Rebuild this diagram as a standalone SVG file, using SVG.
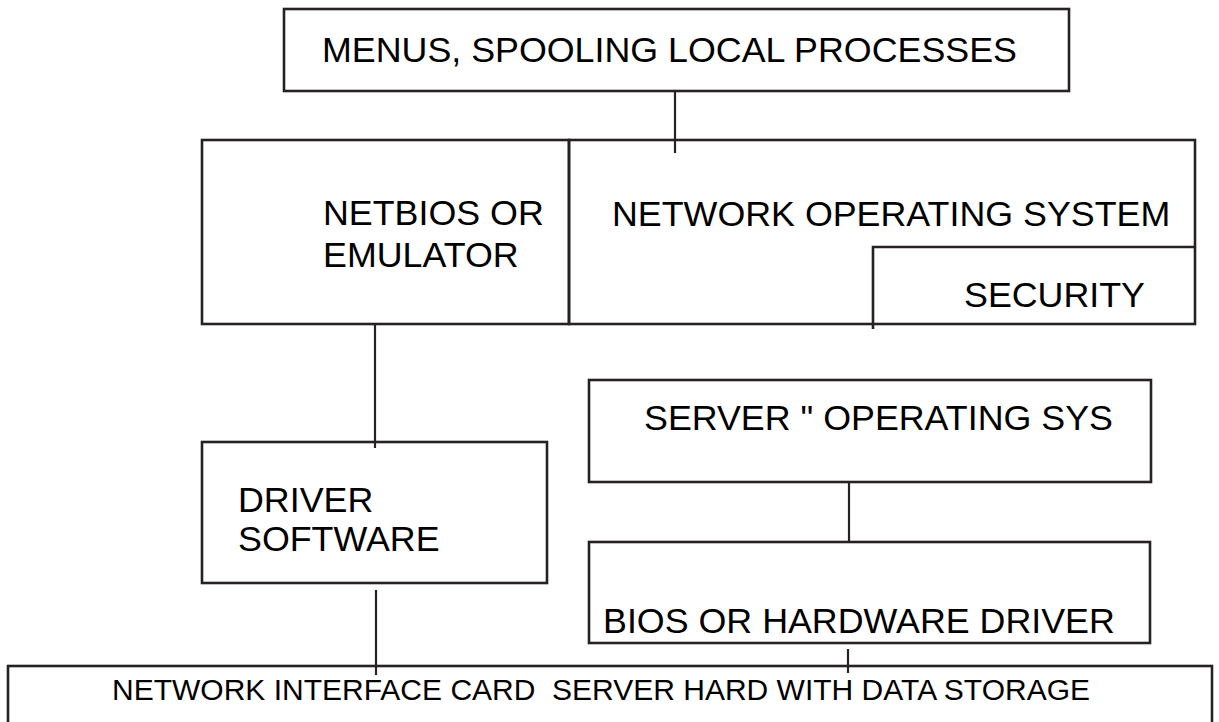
<svg xmlns="http://www.w3.org/2000/svg" width="1219" height="722" viewBox="0 0 1219 722">
<style>
.box{fill:none;stroke:#262223;stroke-width:2.6}
.ln{fill:none;stroke:#262223;stroke-width:2.2}
.t{font-family:"Liberation Sans",Arial,sans-serif;font-size:35.8px;fill:#000}
.ts{font-family:"Liberation Sans",Arial,sans-serif;font-size:29.5px;fill:#000;white-space:pre}
</style>
<rect width="1219" height="722" fill="#fff"/>
<g id="connectors">
<line class="ln" x1="675" y1="91" x2="675" y2="153"/>
<line class="ln" x1="375" y1="324" x2="375" y2="448"/>
<line class="ln" x1="849" y1="482" x2="849" y2="542"/>
<line class="ln" x1="376" y1="590" x2="376" y2="675"/>
<line class="ln" x1="848" y1="649" x2="848" y2="673"/>
</g>
<g id="menus">
<rect class="box" x="284" y="9" width="785" height="82"/>
<text class="t" x="322" y="62">MENUS, SPOOLING LOCAL PROCESSES</text>
</g>
<g id="netbios">
<rect class="box" x="202" y="140" width="367" height="184"/>
<text class="t" x="323" y="225">NETBIOS OR</text>
<text class="t" x="323" y="267">EMULATOR</text>
</g>
<g id="nos">
<rect class="box" x="569" y="140" width="626" height="184"/>
<text class="t" x="612" y="226">NETWORK OPERATING SYSTEM</text>
</g>
<g id="security">
<polyline class="box" points="873,329 873,247 1195,247"/>
<text class="t" x="964" y="307">SECURITY</text>
</g>
<g id="driver">
<rect class="box" x="202" y="442" width="345" height="141"/>
<text class="t" x="238" y="512">DRIVER</text>
<text class="t" x="238" y="551">SOFTWARE</text>
</g>
<g id="server">
<rect class="box" x="589" y="380" width="562" height="102"/>
<text class="t" x="644" y="430">SERVER " OPERATING SYS</text>
</g>
<g id="bios">
<rect class="box" x="589" y="542" width="561" height="101"/>
<text class="t" x="603" y="633">BIOS OR HARDWARE DRIVER</text>
</g>
<g id="nic">
<rect class="box" x="8" y="666" width="1204" height="80"/>
<text class="ts" x="112" y="700" xml:space="preserve" textLength="978" lengthAdjust="spacingAndGlyphs">NETWORK INTERFACE CARD  SERVER HARD WITH DATA STORAGE</text>
</g>
</svg>
